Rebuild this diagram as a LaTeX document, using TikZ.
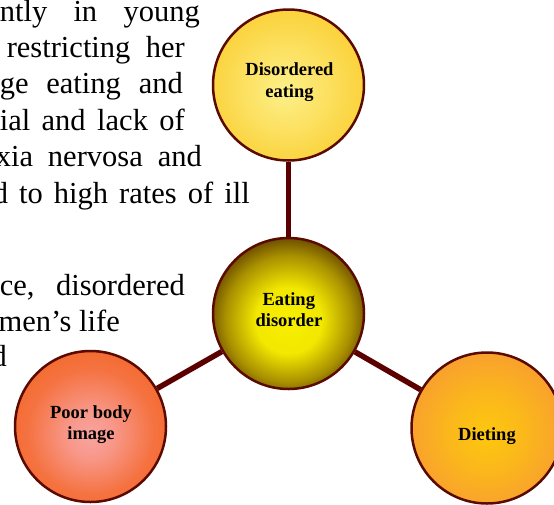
\documentclass[tikz,border=0pt]{standalone}
\usepackage{fontspec}
\setmainfont{Liberation Serif}
\usetikzlibrary{backgrounds}
\definecolor{rim}{HTML}{5A0A00}
\definecolor{linkc}{HTML}{5A0000}
\definecolor{deIn}{HTML}{FCF08A}
\definecolor{deOut}{HTML}{FBC820}
\definecolor{edIn}{HTML}{F8EF00}
\definecolor{edMid}{HTML}{A89000}
\definecolor{edOut}{HTML}{4A2400}
\definecolor{pbIn}{HTML}{F9A3A0}
\definecolor{pbMid}{HTML}{F57240}
\definecolor{pbOut}{HTML}{F2631E}
\definecolor{diIn}{HTML}{FDC80E}
\definecolor{diOut}{HTML}{F6913A}
\pgfdeclareradialshading{deshade}{\pgfpoint{-1.5bp}{-2bp}}{color(0bp)=(deIn); color(35bp)=(deOut); color(50bp)=(deOut)}
\pgfdeclareradialshading{edshade}{\pgfpoint{0bp}{-3bp}}{color(0bp)=(edIn); color(11bp)=(edIn!92!edMid); color(21bp)=(edMid); color(30bp)=(edOut); color(50bp)=(edOut)}
\pgfdeclareradialshading{pbshade}{\pgfpoint{0bp}{-3bp}}{color(0bp)=(pbIn); color(8bp)=(pbIn!75!pbMid); color(21bp)=(pbMid); color(34bp)=(pbOut); color(50bp)=(pbOut)}
\pgfdeclareradialshading{dishade}{\pgfpoint{0bp}{-2bp}}{color(0bp)=(diIn); color(12.5bp)=(diIn!70!diOut); color(35bp)=(diOut); color(50bp)=(diOut)}
\tikzset{
  bubble/.style={circle, draw=rim, line width=2.5pt, minimum size=151pt, inner sep=0pt},
  lbl/.style={font=\fontsize{18.5}{21}\selectfont\bfseries, inner sep=0pt, anchor=base},
  bodytext/.style={font=\fontsize{30.5}{36}\selectfont, inner sep=0pt, anchor=base east},
  connector/.style={draw=linkc, line width=5.5pt}
}
\begin{document}
\begin{tikzpicture}[x=1pt,y=-1pt]
\useasboundingbox (0,0) rectangle (554,504);
% circles
\node[bubble, shading=deshade] (de) at (288.5,85) {};
\node[bubble, shading=edshade] (ed) at (288.5,313.5) {};
\node[bubble, shading=pbshade] (pb) at (90.5,426.5) {};
\node[bubble, shading=dishade] (di) at (487,428) {};
% labels
\node[lbl] (de1) at (289.5,75) {Disordered};
\node[lbl] (de2) at (289.5,97) {eating};
\node[lbl] (ed1) at (288.8,305) {Eating};
\node[lbl] (ed2) at (289,326) {disorder};
\node[lbl] (pb1) at (91,418.5) {Poor body};
\node[lbl] (pb2) at (91,439.5) {image};
\node[lbl] (di1) at (487,440) {Dieting};
\begin{scope}[on background layer]
  \begin{scope}
    \clip (0,0) rectangle (554,504);
    \node[bodytext] (t1) at (200,21) {\makebox[200pt][s]{ntly in young}};
    \node[bodytext] (t2) at (185,57) {\makebox[178pt][s]{restricting her}};
    \node[bodytext] (t3) at (183,93.5) {\makebox[183pt][s]{ge eating and}};
    \node[bodytext] (t4) at (185,130) {\makebox[185pt][s]{ial and lack of}};
    \node[bodytext] (t5) at (202,166.5) {\makebox[206pt][s]{xia nervosa and}};
    \node[bodytext] (t6) at (250,203) {\makebox[257pt][s]{d to high rates of ill}};
    \node[bodytext] (t7) at (185,295.5) {\makebox[185pt][s]{ce, disordered}};
    \node[bodytext] (t8) at (120,331.5) {men’s life};
    \node[bodytext] (t9) at (7,366.5) {d};
  \end{scope}
  \draw[connector] (ed) -- (de);
  \draw[connector] (ed) -- (pb);
  \draw[connector] (ed) -- (di);
\end{scope}
\end{tikzpicture}
\end{document}
